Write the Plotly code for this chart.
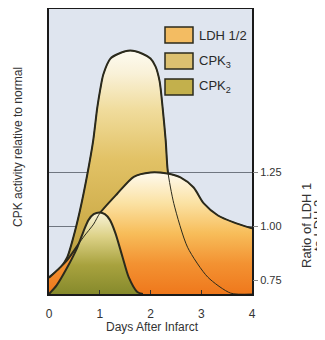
import plotly.graph_objects as go

# ---- data ----
days_cpk3 = [0, 0.22, 0.36, 0.48, 0.61, 0.75, 0.87, 0.95, 1.01, 1.07, 1.21, 1.37, 1.6, 1.84, 2.0, 2.1, 2.18, 2.24, 2.3, 2.34, 2.46, 2.73, 3.13, 3.58, 4.0]
cpk3 = [5.9, 9.1, 12.9, 19.9, 29.3, 41.5, 53.7, 65.2, 71.8, 77.0, 82.6, 84.3, 85.4, 84.3, 82.6, 79.8, 74.6, 65.2, 53.7, 43.2, 31.7, 16.4, 5.9, 0.3, 0]

days_ldh = [0, 0.35, 0.68, 0.88, 1.0, 1.34, 1.67, 2.0, 2.33, 2.59, 2.85, 3.05, 3.33, 3.64, 4.0]
ldh_ratio = [0.76, 0.84, 0.95, 1.01, 1.06, 1.15, 1.23, 1.25, 1.245, 1.227, 1.18, 1.106, 1.05, 1.018, 0.99]

days_cpk2 = [0, 0.15, 0.35, 0.55, 0.68, 0.78, 0.88, 1.0, 1.1, 1.2, 1.31, 1.45, 1.57, 1.74, 1.85]
cpk2 = [0, 3, 9, 16, 22, 26, 28, 28.6, 28, 26, 21.3, 12.9, 5.9, 0.7, 0]

x_ticks = [0, 1, 2, 3, 4]
ratio_ticks = [0.75, 1.00, 1.25]
ratio_labels = ["0.75", "1.00", "1.25"]
legend_names = ["LDH 1/2", "CPK<sub>3</sub>", "CPK<sub>2</sub>"]
legend_colors = ["#f3bc62", "#dcc070", "#c3b04c"]

FONT = "Liberation Sans, Arial, sans-serif"
EDGE = "#2b2a1c"
SM = 0.7

fig = go.Figure()

# CPK3 (back)
fig.add_trace(go.Scatter(
    x=days_cpk3, y=cpk3, yaxis="y", mode="lines", line=dict(color=EDGE, width=2, shape="spline", smoothing=SM),
    fill="tozeroy",
    fillgradient=dict(type="vertical", start=0, stop=86,
                      colorscale=[[0, "#a8963a"], [0.3, "#cfae4c"], [0.55, "#e2c266"], [0.75, "#f0dc9c"],
                                  [0.9, "#f9f1d8"], [1, "#fdfbf2"]]),
    showlegend=False, hoverinfo="skip"))

# LDH ratio (middle)
fig.add_trace(go.Scatter(
    x=days_ldh, y=ldh_ratio, yaxis="y2", mode="lines", line=dict(color=EDGE, width=2, shape="spline", smoothing=SM),
    fill="tozeroy",
    fillgradient=dict(type="vertical", start=0.685, stop=1.25,
                      colorscale=[[0, "#ef781c"], [0.25, "#f39232"], [0.5, "#f7bd5a"], [0.75, "#fbe2a4"], [1, "#fefaee"]]),
    showlegend=False, hoverinfo="skip"))

# CPK2 (front)
fig.add_trace(go.Scatter(
    x=days_cpk2, y=cpk2, yaxis="y3", mode="lines", line=dict(color=EDGE, width=2, shape="spline", smoothing=SM),
    fill="tozeroy",
    fillgradient=dict(type="vertical", start=0, stop=29,
                      colorscale=[[0, "#868a2c"], [0.35, "#a8a23e"], [0.7, "#ddd288"], [1, "#faf5dc"]]),
    showlegend=False, hoverinfo="skip"))

# thin outlines visible through the fills in front
fig.add_trace(go.Scatter(x=days_cpk3, y=cpk3, yaxis="y4", mode="lines",
                         line=dict(color=EDGE, width=1, shape="spline", smoothing=SM),
                         showlegend=False, hoverinfo="skip"))
fig.add_trace(go.Scatter(x=days_ldh, y=ldh_ratio, yaxis="y5", mode="lines",
                         line=dict(color=EDGE, width=1, shape="spline", smoothing=SM),
                         showlegend=False, hoverinfo="skip"))

# page body adds an 8px offset; work in figure pixels = window pixels - 8
OFF = 8
W, H = 317, 332
L, R, T, B = 41, 73, 1, 46
pw, ph = W - L - R, H - T - B
def px2paper(xw, yw):
    xp, yp = xw - OFF, yw - OFF
    return (xp - L) / pw, 1 - (yp - T) / ph

shapes = []
annotations = []
sw_top = [27, 53, 79]
for name, col, yt in zip(legend_names, legend_colors, sw_top):
    x0, y1 = px2paper(165, yt)
    x1, y0 = px2paper(193, yt + 16)
    shapes.append(dict(type="rect", xref="paper", yref="paper", x0=x0, x1=x1, y0=y0, y1=y1,
                       fillcolor=col, line=dict(color=EDGE, width=1.5), layer="above"))
    tx, ty = px2paper(197, yt + 8)
    annotations.append(dict(xref="paper", yref="paper", x=tx, y=ty, text=name, showarrow=False,
                            xanchor="left", yanchor="middle", font=dict(family=FONT, size=13, color="#2a2a2a")))

# axis titles
ax, ay = px2paper(18, 147)
annotations.append(dict(xref="paper", yref="paper", x=ax, y=ay, text="CPK activity relative to normal",
                        textangle=-90, showarrow=False, xanchor="center", yanchor="middle",
                        font=dict(family=FONT, size=12, color="#333")))
for txt, xw in [("Ratio of LDH 1", 306), ("to LDH 2", 318)]:
    rx, ry = px2paper(xw, 226)
    annotations.append(dict(xref="paper", yref="paper", x=rx, y=ry, text=txt,
                            textangle=-90, showarrow=False, xanchor="center", yanchor="middle",
                            font=dict(family=FONT, size=13, color="#333")))
bx, by = px2paper(152, 327)
annotations.append(dict(xref="paper", yref="paper", x=bx, y=by, text="Days After Infarct",
                        showarrow=False, xanchor="center", yanchor="middle",
                        font=dict(family=FONT, size=12, color="#333")))

yl_range = [0, 100]
y2_range = [0.685, 2.01]

fig.update_layout(
    width=W, height=H,
    margin=dict(l=L, r=R, t=T, b=B, pad=0, autoexpand=False),
    paper_bgcolor="white",
    plot_bgcolor="#dfe5ef",
    font=dict(family=FONT, size=11, color="#333"),
    showlegend=False,
    shapes=shapes,
    annotations=annotations,
    xaxis=dict(range=[0, 4], tickvals=x_ticks, ticks="inside", ticklen=4, tickcolor="#333",
               ticklabelstandoff=8,
               showgrid=False, zeroline=False, showline=True, linecolor="#1a1a1a", linewidth=1.5, mirror=True,
               tickfont=dict(size=12, color="#333")),
    yaxis=dict(range=yl_range, showticklabels=False, ticks="", showgrid=False, zeroline=False,
               showline=True, linecolor="#1a1a1a", linewidth=1.5, mirror=True),
    yaxis2=dict(range=y2_range, overlaying="y", side="right", tickvals=ratio_ticks, ticktext=ratio_labels,
                ticks="outside", ticklen=5, tickcolor="#888", showgrid=True, gridcolor="#6f7680", gridwidth=1,
                zeroline=False, showline=False, tickfont=dict(size=11, color="#333")),
    yaxis3=dict(range=yl_range, overlaying="y", visible=False),
    yaxis4=dict(range=yl_range, overlaying="y", visible=False),
    yaxis5=dict(range=y2_range, overlaying="y", visible=False),
)

fig.write_html("out.html")
